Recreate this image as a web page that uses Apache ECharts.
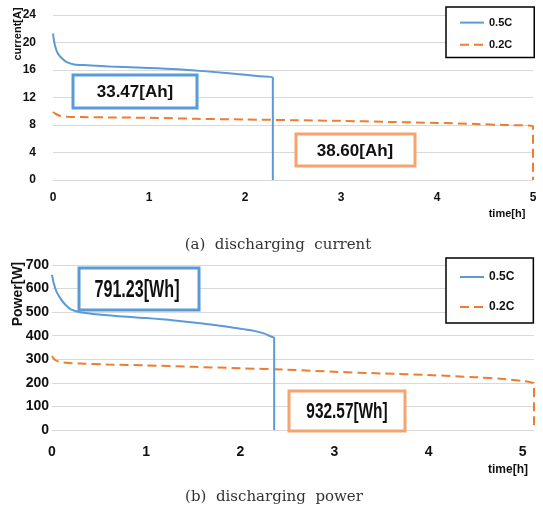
<!DOCTYPE html>
<html>
<head>
<meta charset="utf-8">
<script src="https://cdn.jsdelivr.net/npm/echarts@6/dist/echarts.min.js"></script>
<style>
  html, body { margin: 0; padding: 0; background: #fff; }
  #chart { width: 543px; height: 513px; }
</style>
</head>
<body>
<div id="chart"></div>
<script>
// (a) discharging current
const curTime05 = [0, 0.02, 0.05, 0.1, 0.15, 0.22, 0.36, 0.6, 1.0, 1.3, 1.6, 2.0, 2.15, 2.29, 2.29];
const curVal05  = [21.3, 19.6, 18.4, 17.6, 17.1, 16.8, 16.7, 16.5, 16.3, 16.1, 15.8, 15.3, 15.1, 14.9, 0];
const curTime02 = [0, 0.03, 0.08, 0.15, 0.3, 0.6, 1.0, 1.5, 2.0, 2.5, 3.0, 3.5, 4.0, 4.4, 4.7, 5.0, 5.0];
const curVal02  = [9.9, 9.6, 9.3, 9.2, 9.15, 9.1, 9.05, 8.9, 8.8, 8.7, 8.6, 8.45, 8.3, 8.15, 8.0, 7.85, 0];

// (b) discharging power
const powTime05 = [0, 0.02, 0.05, 0.1, 0.15, 0.2, 0.3, 0.5, 0.8, 1.0, 1.3, 1.6, 1.9, 2.1, 2.25, 2.33, 2.36, 2.36];
const powVal05  = [658, 620, 585, 552, 528, 512, 500, 490, 480, 475, 465, 452, 436, 424, 410, 396, 390, 0];
const powTime02 = [0, 0.03, 0.08, 0.15, 0.3, 0.6, 1.0, 1.5, 2.0, 2.5, 3.0, 3.5, 4.0, 4.5, 4.8, 5.0, 5.1, 5.12, 5.12];
const powVal02  = [314, 298, 289, 285, 282, 278, 274, 268, 262, 256, 247, 240, 233, 224, 216, 208, 201, 198, 0];

const seriesNames = ["0.5C", "0.2C"];
const capacityText = ["33.47[Ah]", "38.60[Ah]"];
const energyText = ["791.23[Wh]", "932.57[Wh]"];

const pairs = (xs, ys) => xs.map((x, i) => [x, ys[i]]);

const blue = "#5B9BD5";
const orange = "#ED7D31";
const boxOrange = "#F4A46E";
const gridGray = "#d9d9d9";
const sans = "Liberation Sans, Arial, sans-serif";

const chart = echarts.init(document.getElementById("chart"));

const boldLabel = size => ({
  fontSize: size, fontWeight: "bold", color: "#111", fontFamily: sans
});

chart.setOption({
  animation: false,
  backgroundColor: "#fff",
  grid: [
    { left: 53, right: 10, top: 15, height: 165 },
    { left: 52, right: 9, top: 265, height: 165 }
  ],
  xAxis: [
    {
      gridIndex: 0, type: "value", min: 0, max: 5, interval: 1,
      axisLine: { show: false }, axisTick: { show: false }, splitLine: { show: false },
      axisLabel: { margin: 12, ...boldLabel(12) }
    },
    {
      gridIndex: 1, type: "value", min: 0, max: 5.12, interval: 1,
      axisLine: { show: false }, axisTick: { show: false }, splitLine: { show: false },
      axisLabel: {
        margin: 15, showMaxLabel: false,
        formatter: v => (Number.isInteger(v) ? String(v) : ""),
        ...boldLabel(14)
      }
    }
  ],
  yAxis: [
    {
      gridIndex: 0, type: "value", min: 0, max: 24, interval: 4,
      axisLine: { show: false }, axisTick: { show: false },
      splitLine: { lineStyle: { color: gridGray, width: 1 } },
      axisLabel: { margin: 17, ...boldLabel(12) }
    },
    {
      gridIndex: 1, type: "value", min: 0, max: 700, interval: 100,
      axisLine: { show: false }, axisTick: { show: false },
      splitLine: { lineStyle: { color: gridGray, width: 1 } },
      axisLabel: { margin: 3, ...boldLabel(14) }
    }
  ],
  legend: [
    {
      data: seriesNames, orient: "vertical", left: 446, top: 7,
      padding: [10, 22, 7, 13], itemGap: 11, itemWidth: 24, itemHeight: 14,
      borderColor: "#000", borderWidth: 1.5, backgroundColor: "#fff",
      itemStyle: { opacity: 0 },
      textStyle: { fontSize: 11, fontWeight: "bold", color: "#111", fontFamily: sans }
    },
    {
      data: seriesNames, orient: "vertical", left: 446, top: 258,
      padding: [13, 19, 10, 13], itemGap: 18, itemWidth: 24, itemHeight: 14,
      borderColor: "#000", borderWidth: 1.5, backgroundColor: "#fff",
      itemStyle: { opacity: 0 },
      textStyle: { fontSize: 12, fontWeight: "bold", color: "#111", fontFamily: sans }
    }
  ],
  series: [
    {
      name: seriesNames[0], type: "line", xAxisIndex: 0, yAxisIndex: 0,
      data: pairs(curTime05, curVal05), symbol: "none", smooth: 0.3,
      lineStyle: { color: blue, width: 2 }, itemStyle: { color: blue }, z: 3
    },
    {
      name: seriesNames[1], type: "line", xAxisIndex: 0, yAxisIndex: 0,
      data: pairs(curTime02, curVal02), symbol: "none", smooth: 0.3,
      lineStyle: { color: orange, width: 2, type: [9, 5] }, itemStyle: { color: orange }, z: 2
    },
    {
      name: seriesNames[0], type: "line", xAxisIndex: 1, yAxisIndex: 1,
      data: pairs(powTime05, powVal05), symbol: "none", smooth: 0.3,
      lineStyle: { color: blue, width: 2 }, itemStyle: { color: blue }, z: 3
    },
    {
      name: seriesNames[1], type: "line", xAxisIndex: 1, yAxisIndex: 1,
      data: pairs(powTime02, powVal02), symbol: "none", smooth: 0.3,
      lineStyle: { color: orange, width: 2, type: [9, 5] }, itemStyle: { color: orange }, z: 2
    }
  ],
  graphic: [
    // axis names
    {
      type: "text", x: 18, y: 34, rotation: Math.PI / 2, z: 10,
      style: { text: "current[A]", align: "center", verticalAlign: "middle",
        font: "bold 11px " + sans, fill: "#111" }
    },
    {
      type: "text", x: 18, y: 294, rotation: Math.PI / 2, z: 10,
      style: { text: "Power[W]", align: "center", verticalAlign: "middle",
        font: "bold 14px " + sans, fill: "#111" }
    },
    {
      type: "text", x: 507, y: 214, z: 10,
      style: { text: "time[h]", align: "center", verticalAlign: "middle",
        font: "bold 11px " + sans, fill: "#111" }
    },
    {
      type: "text", x: 508, y: 470, z: 10,
      style: { text: "time[h]", align: "center", verticalAlign: "middle",
        font: "bold 12px " + sans, fill: "#111" }
    },
    // value boxes
    {
      type: "rect", shape: { x: 73, y: 75, width: 124, height: 33 }, z: 10,
      style: { fill: "#fff", stroke: blue, lineWidth: 3 }
    },
    {
      type: "text", x: 135, y: 92, z: 11,
      style: { text: capacityText[0], align: "center", verticalAlign: "middle",
        font: "bold 17px " + sans, fill: "#111" }
    },
    {
      type: "rect", shape: { x: 296, y: 134, width: 119, height: 32 }, z: 10,
      style: { fill: "#fff", stroke: boxOrange, lineWidth: 3 }
    },
    {
      type: "text", x: 355, y: 151, z: 11,
      style: { text: capacityText[1], align: "center", verticalAlign: "middle",
        font: "bold 17px " + sans, fill: "#111" }
    },
    {
      type: "rect", shape: { x: 79, y: 268, width: 120, height: 42 }, z: 10,
      style: { fill: "#fff", stroke: blue, lineWidth: 3 }
    },
    {
      type: "text", x: 137, y: 291, scaleX: 0.7, z: 11,
      style: { text: energyText[0], align: "center", verticalAlign: "middle",
        font: "bold 23px " + sans, fill: "#111" }
    },
    {
      type: "rect", shape: { x: 289, y: 391, width: 116, height: 40 }, z: 10,
      style: { fill: "#fff", stroke: boxOrange, lineWidth: 3 }
    },
    {
      type: "text", x: 347, y: 412, scaleX: 0.7, z: 11,
      style: { text: energyText[1], align: "center", verticalAlign: "middle",
        font: "bold 22px " + sans, fill: "#111" }
    },
    // captions
    {
      type: "text", x: 278, y: 245, z: 10,
      style: { text: "(a)  discharging  current", align: "center", verticalAlign: "middle",
        font: "15px DejaVu Serif, serif", fill: "#333" }
    },
    {
      type: "text", x: 274, y: 497, z: 10,
      style: { text: "(b)  discharging  power", align: "center", verticalAlign: "middle",
        font: "15px DejaVu Serif, serif", fill: "#333" }
    }
  ]
});
</script>
</body>
</html>
